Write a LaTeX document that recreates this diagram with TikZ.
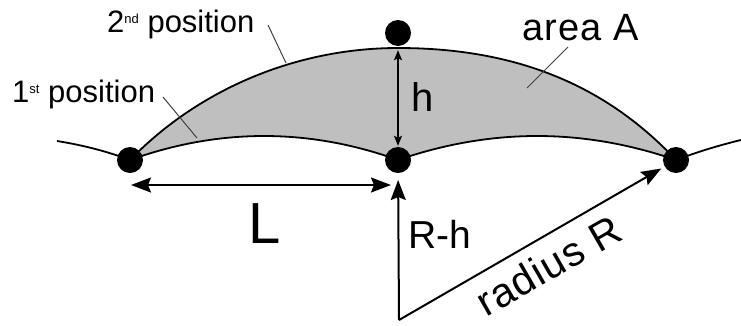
\documentclass[tikz,border=0pt]{standalone}
\usepackage{fontspec}
\setmainfont{Liberation Sans}
\usetikzlibrary{arrows.meta,calc}
\begin{document}
\begin{tikzpicture}[x=1pt,y=-1pt,
  dot/.style={circle,fill=black,inner sep=0pt,minimum size=26pt},
  arcline/.style={line width=1.8pt},
  leader/.style={line width=1pt,draw=black!75},
  bighead/.tip={Stealth[length=20pt,width=15pt,inset=3pt]},
  smallhead/.tip={Stealth[length=10pt,width=8pt,inset=2pt]},
  bigarrow/.style={line width=2pt,-bighead},
  lbl/.style={inner sep=0pt,anchor=base west}
]
\useasboundingbox (0,0) rectangle (741,325);

% shaded area A
\fill[black!25] (130,160) .. controls (200,88) and (298,48) .. (398,48)
  .. controls (508,48) and (601,80) .. (676,160)
  .. controls (583,128) and (491,128) .. (398,160)
  .. controls (309,128) and (219,128) .. (130,160) -- cycle;

% curves
\draw[arcline] (130,160) .. controls (200,88) and (298,48) .. (398,48)
  .. controls (508,48) and (601,80) .. (676,160);
\draw[arcline] (130,160) .. controls (219,128) and (309,128) .. (398,160)
  .. controls (491,128) and (583,128) .. (676,160);
\draw[arcline] (57,141) .. controls (82,145) and (106,151) .. (130,160);
\draw[arcline] (676,160) .. controls (700,151) and (720,145) .. (745,139);

% dots
\node[dot] (left) at (130,160) {};
\node[dot] (mid) at (398,160) {};
\node[dot] (right) at (676,160) {};
\node[dot] (top) at (398,33) {};
\coordinate (O) at (399,320);
\coordinate (L1) at (131,185);
\coordinate (L2) at (391,185);

% leader lines
\coordinate (p2a) at (268,25);
\coordinate (p2b) at (286,63);
\coordinate (p1a) at (163,97);
\coordinate (p1b) at (197,138);
\coordinate (aa) at (568,47);
\coordinate (ab) at (527,88);
\draw[leader] (p2a) -- (p2b);
\draw[leader] (p1a) -- (p1b);
\draw[leader] (aa) -- (ab);

% arrows
\draw[line width=1.3pt,smallhead-smallhead,shorten <=4pt,shorten >=1pt] (top.south) -- (mid.north);
\draw[line width=2pt,bighead-bighead] (L1) -- (L2);
\draw[bigarrow,shorten >=20pt] (O) -- (mid.center);
\draw[bigarrow,shorten >=17pt] (O) -- (right.center);

% labels
\node[lbl] (t2) at (107,32) {\fontsize{31}{31}\selectfont 2\raisebox{9pt}{\fontsize{13}{13}\selectfont nd} position};
\node[lbl] (t1) at (12,102) {\fontsize{31}{31}\selectfont 1\raisebox{9pt}{\fontsize{13}{13}\selectfont st} position};
\node[lbl] (tA) at (522,40) {\fontsize{38}{38}\selectfont\addfontfeature{LetterSpace=3}area A};
\node[lbl] (th) at (411,111) {\fontsize{40}{40}\selectfont h};
\node[lbl] (tL) at (248,243) {\fontsize{58}{58}\selectfont L};
\node[lbl] (tRh) at (408,248) {\fontsize{39}{39}\selectfont R-h};
\node[lbl,rotate=29.8] (tR) at (486,318) {\fontsize{41}{41}\selectfont\addfontfeature{LetterSpace=3}radius R};
\end{tikzpicture}
\end{document}
